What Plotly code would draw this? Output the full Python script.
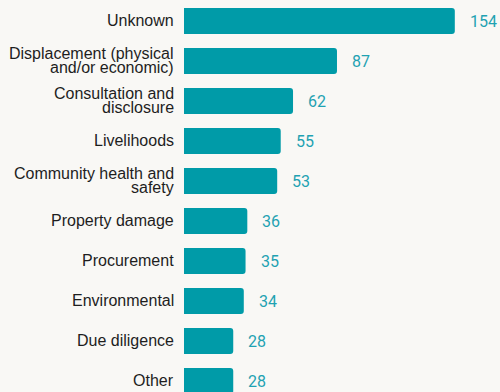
import plotly.graph_objects as go

categories = [
    "Unknown",
    "Displacement (physical<br>and/or economic)",
    "Consultation and<br>disclosure",
    "Livelihoods",
    "Community health and<br>safety",
    "Property damage",
    "Procurement",
    "Environmental",
    "Due diligence",
    "Other",
]
counts = [154, 87, 62, 55, 53, 36, 35, 34, 28, 28]

BAR_COLOR = "#009ba8"
VALUE_COLOR = "#1fa2b2"
LABEL_COLOR = "#1e1e1e"
BG = "#f9f8f5"
LINE_PITCH = 14.4  # tight line spacing for wrapped category labels

idx = list(range(len(categories)))

fig = go.Figure(
    go.Bar(
        x=counts,
        y=idx,
        orientation="h",
        width=0.65,
        marker=dict(color=BAR_COLOR, cornerradius=3, line=dict(width=0)),
        hoverinfo="skip",
    )
)

annotations = []
for i, (cat, n) in enumerate(zip(categories, counts)):
    # value label just past the end of each bar
    annotations.append(dict(
        x=n, y=i, xref="x", yref="y", text=str(n), showarrow=False,
        xanchor="left", yanchor="middle", xshift=13,
        font=dict(family="Roboto", size=16, color=VALUE_COLOR),
    ))
    # category label, one annotation per line so the wrap stays compact
    lines = cat.split("<br>")
    k = len(lines)
    for j, line in enumerate(lines):
        offset = ((k - 1) / 2 - j) * LINE_PITCH
        annotations.append(dict(
            x=0, y=i, xref="paper", yref="y", text=line, showarrow=False,
            xanchor="right", yanchor="middle", xshift=-8, yshift=offset + 0.5,
            font=dict(family="Liberation Sans, Arial", size=16, color=LABEL_COLOR),
        ))

fig.update_layout(
    width=500,
    height=392,
    margin=dict(l=184, r=0, t=1, b=0),
    paper_bgcolor=BG,
    plot_bgcolor=BG,
    showlegend=False,
    annotations=annotations,
    xaxis=dict(range=[0, 179.7], visible=False, fixedrange=True),
    yaxis=dict(range=[9.275, -0.5], visible=False, fixedrange=True),
)

fig.write_html("out.html", config={"displayModeBar": False})
